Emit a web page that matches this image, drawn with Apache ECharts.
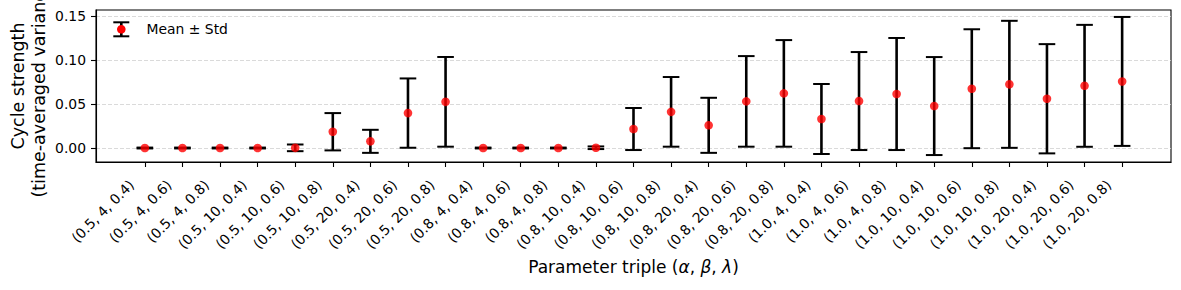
<!DOCTYPE html>
<html>
<head>
<meta charset="utf-8">
<script src="https://cdn.jsdelivr.net/npm/echarts@6/dist/echarts.min.js"></script>
<style>
html,body{margin:0;padding:0;background:#fff;}
#c{width:1181px;height:290px;}
</style>
</head>
<body>
<div id="c"></div>
<script>
// ---- data ----
const categories = [
  '(0.5, 4, 0.4)', '(0.5, 4, 0.6)', '(0.5, 4, 0.8)',
  '(0.5, 10, 0.4)', '(0.5, 10, 0.6)', '(0.5, 10, 0.8)',
  '(0.5, 20, 0.4)', '(0.5, 20, 0.6)', '(0.5, 20, 0.8)',
  '(0.8, 4, 0.4)', '(0.8, 4, 0.6)', '(0.8, 4, 0.8)',
  '(0.8, 10, 0.4)', '(0.8, 10, 0.6)', '(0.8, 10, 0.8)',
  '(0.8, 20, 0.4)', '(0.8, 20, 0.6)', '(0.8, 20, 0.8)',
  '(1.0, 4, 0.4)', '(1.0, 4, 0.6)', '(1.0, 4, 0.8)',
  '(1.0, 10, 0.4)', '(1.0, 10, 0.6)', '(1.0, 10, 0.8)',
  '(1.0, 20, 0.4)', '(1.0, 20, 0.6)', '(1.0, 20, 0.8)'
];
const means = [0, 0, 0, 0, 0.0002, 0.0185, 0.0076, 0.0397, 0.0525,
               0, 0, 0, 0.0003, 0.0216, 0.0411, 0.0258, 0.0530, 0.0621,
               0.0330, 0.0534, 0.0614, 0.0477, 0.0674, 0.0724, 0.0560, 0.0707, 0.0757];
const stds  = [0.0005, 0.0005, 0.0005, 0.0005, 0.0038, 0.0212, 0.0131, 0.0394, 0.0510,
               0.0005, 0.0005, 0.0005, 0.0015, 0.0239, 0.0396, 0.0313, 0.0515, 0.0606,
               0.0398, 0.0557, 0.0637, 0.0557, 0.0676, 0.0722, 0.0621, 0.0693, 0.0733];
const yTicks = [0, 0.05, 0.10, 0.15];
const yMin = -0.0159, yMax = 0.1569;
const xMin = -1.3, xMax = 27.3;

const FONT = 'DejaVu Sans';
const idx = categories.map((_, i) => i);

const chart = echarts.init(document.getElementById('c'), null, {renderer: 'svg'});
chart.setOption({
  animation: false,
  backgroundColor: '#fff',
  textStyle: {fontFamily: FONT},
  grid: {left: 96, right: 10, top: 10, bottom: 128, outerBoundsMode: 'none', containLabel: false,
         show: true, borderColor: '#000', borderWidth: 1.1, backgroundColor: 'transparent'},
  xAxis: {
    type: 'value', min: xMin, max: xMax,
    name: 'Parameter triple ({i|α}, {i|β}, {i|λ})',
    nameLocation: 'middle', nameGap: 96, nameMoveOverlap: false,
    nameTextStyle: {fontFamily: FONT, fontSize: 17, color: '#000',
      rich: {i: {fontFamily: FONT, fontSize: 17, fontStyle: 'italic', color: '#000'}}},
    axisLine: {show: true, onZero: false, lineStyle: {color: '#000', width: 1.1}},
    axisTick: {show: true, length: 5, customValues: idx, lineStyle: {color: '#000', width: 1.1}},
    axisLabel: {show: true, customValues: idx, rotate: 45, margin: 7, padding: [0, 19, 0, 0],
      fontFamily: FONT, fontSize: 13.9, color: '#000', hideOverlap: false,
      formatter: v => categories[Math.round(v)]},
    splitLine: {show: false}
  },
  yAxis: {
    type: 'value', min: yMin, max: yMax,
    name: 'Cycle strength\n(time-averaged variance)',
    nameLocation: 'middle', nameGap: 47, nameRotate: 90, nameMoveOverlap: false,
    nameTextStyle: {fontFamily: FONT, fontSize: 17.5, color: '#000', lineHeight: 21, align: 'center'},
    axisLine: {show: true, onZero: false, lineStyle: {color: '#000', width: 1.1}},
    axisTick: {show: true, length: 5, customValues: yTicks, lineStyle: {color: '#000', width: 1.1}},
    axisLabel: {show: true, customValues: yTicks, margin: 10, fontFamily: FONT, fontSize: 13.9, color: '#000',
      formatter: v => v.toFixed(2)},
    splitLine: {show: true, lineStyle: {color: '#d0d0d0', type: [4, 2], width: 0.8}}
  },
  series: [
    {
      name: 'Mean ± Std',
      type: 'custom',
      data: means.map((m, i) => [i, m, stds[i]]),
      encode: {x: 0, y: 1},
      z: 2,
      renderItem: function (params, api) {
        const x = api.value(0), m = api.value(1), s = api.value(2);
        const top = api.coord([x, m + s]);
        const bot = api.coord([x, m - s]);
        const cw = 8.3;
        return {
          type: 'group',
          children: [
            {type: 'line', shape: {x1: top[0], y1: top[1], x2: bot[0], y2: bot[1]}, style: {stroke: '#000', lineWidth: 2.6}},
            {type: 'line', shape: {x1: top[0] - cw, y1: top[1], x2: top[0] + cw, y2: top[1]}, style: {stroke: '#000', lineWidth: 2}},
            {type: 'line', shape: {x1: bot[0] - cw, y1: bot[1], x2: bot[0] + cw, y2: bot[1]}, style: {stroke: '#000', lineWidth: 2}}
          ]
        };
      }
    },
    {
      name: 'Mean',
      type: 'scatter',
      data: means.map((m, i) => [i, m]),
      symbol: 'circle',
      symbolSize: 8.6,
      itemStyle: {color: '#ff0000'},
      z: 3
    }
  ],
  graphic: [
    {type: 'line', shape: {x1: 121.3, y1: 22.3, x2: 121.3, y2: 36.3}, style: {stroke: '#000', lineWidth: 2.6}},
    {type: 'line', shape: {x1: 113.3, y1: 22.3, x2: 129.3, y2: 22.3}, style: {stroke: '#000', lineWidth: 2}},
    {type: 'line', shape: {x1: 113.3, y1: 36.3, x2: 129.3, y2: 36.3}, style: {stroke: '#000', lineWidth: 2}},
    {type: 'circle', shape: {cx: 121.3, cy: 29.3, r: 4.3}, style: {fill: '#ff0000'}},
    {type: 'text', x: 146.5, y: 29.3, style: {text: 'Mean ± Std', fontFamily: FONT, fontSize: 13.9, fill: '#000', verticalAlign: 'middle', align: 'left'}}
  ]
});
</script>
</body>
</html>
